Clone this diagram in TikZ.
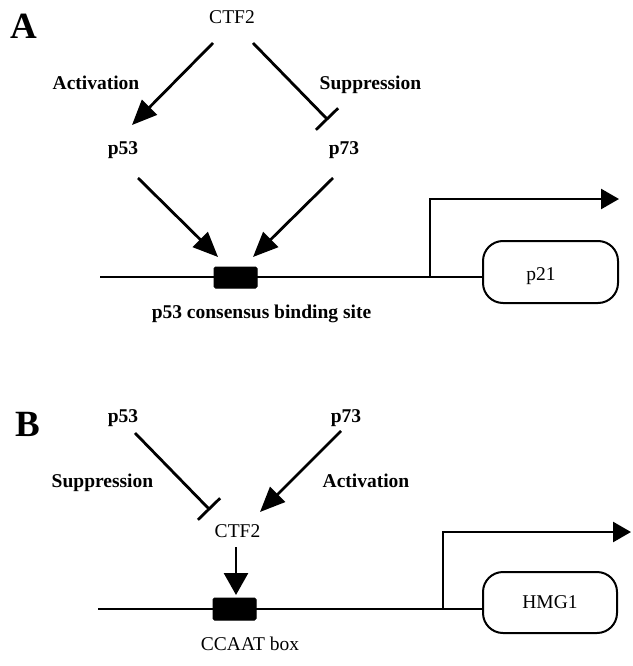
\documentclass[tikz,border=0pt]{standalone}
\usepackage{fontspec}
\setmainfont{Liberation Serif}
\usetikzlibrary{arrows.meta}
\begin{document}
\begin{tikzpicture}[x=1pt,y=-1pt,
  bl/.style={font=\fontsize{19.5}{22}\selectfont\bfseries, inner sep=0pt, anchor=base},
  rg/.style={font=\fontsize{19.5}{22}\selectfont, inner sep=0pt, anchor=base},
  panel/.style={font=\fontsize{37}{40}\selectfont\bfseries, inner sep=0pt},
  act/.style={line width=2.8pt, -{Triangle[length=25pt,width=21pt]}},
  sup/.style={line width=2.8pt, -{Bar[width=31pt]}},
  dna/.style={line width=2.6pt},
  site/.style={fill=black, draw=black, line width=1pt, rounded corners=1.5pt},
  gene/.style={draw=black, line width=2pt, rounded corners=20pt},
  prom/.style={line width=2.6pt, -{Triangle[length=18pt,width=20pt]}},
  down/.style={line width=2.8pt, -{Triangle[length=22pt,width=24pt]}}
]
\useasboundingbox (0,0) rectangle (632,666);

% ---------- Panel A ----------
\node[panel] (pA) at (24,26) {A};
\node[rg] (ctfA) at (232,24) {CTF2};
\node[bl] (actA) at (96,90) {Activation};
\node[bl] (supA) at (370.5,90) {Suppression};
\node[bl] (p53A) at (123,154) {p53};
\node[bl] (p73A) at (344,154) {p73};
\node[bl] (consA) at (261.5,318) {p53 consensus binding site};

\coordinate (a1s) at (213,43);
\coordinate (a1e) at (132,125);
\coordinate (s1s) at (253,43);
\coordinate (s1e) at (328,120);
\coordinate (a2s) at (138,178);
\coordinate (a2e) at (218,257);
\coordinate (a3s) at (333,178);
\coordinate (a3e) at (253,257);
\coordinate (dnaA0) at (100,277);
\coordinate (promA) at (430,277);
\coordinate (promAtop) at (430,199);
\coordinate (promAend) at (619,199);

\draw[act] (a1s) -- (a1e);
\draw[sup] (s1s) -- (s1e);
\draw[act] (a2s) -- (a2e);
\draw[act] (a3s) -- (a3e);

\node[gene, minimum width=135pt, minimum height=62pt, inner sep=0pt] (p21box) at (550.5,272) {};
\node[rg] (p21t) at (541,280) {p21};
\draw[dna] (dnaA0) -- (dnaA0 -| p21box.west);
\node[site, minimum width=43pt, minimum height=21pt, inner sep=0pt] (siteA) at (235.5,277.5) {};
\draw[prom] (promA) -- (promAtop) -- (promAend);

% ---------- Panel B ----------
\node[panel] (pB) at (28,424) {B};
\node[bl] (p53B) at (123,422) {p53};
\node[bl] (p73B) at (346,422) {p73};
\node[bl] (supB) at (102.5,487) {Suppression};
\node[bl] (actB) at (366,487) {Activation};
\node[rg] (ctfB) at (237.5,537) {CTF2};
\node[rg] (ccaat) at (250,650) {CCAAT box};

\coordinate (b1s) at (135,433);
\coordinate (b1e) at (210,510);
\coordinate (b2s) at (341,431);
\coordinate (b2e) at (260,512);
\coordinate (b3s) at (236,547);
\coordinate (b3e) at (236,595);
\coordinate (dnaB0) at (98,609);
\coordinate (promB) at (443,609);
\coordinate (promBtop) at (443,532);
\coordinate (promBend) at (631,532);

\draw[sup] (b1s) -- (b1e);
\draw[act] (b2s) -- (b2e);
\draw[down] (b3s) -- (b3e);

\node[gene, minimum width=134pt, minimum height=61pt, inner sep=0pt] (hmgbox) at (550,602.5) {};
\node[rg, anchor=center] (hmgt) at (550,602.5) {HMG1};
\draw[dna] (dnaB0) -- (dnaB0 -| hmgbox.west);
\node[site, minimum width=43pt, minimum height=22pt, inner sep=0pt] (siteB) at (234.5,609) {};
\draw[prom] (promB) -- (promBtop) -- (promBend);
\end{tikzpicture}
\end{document}
